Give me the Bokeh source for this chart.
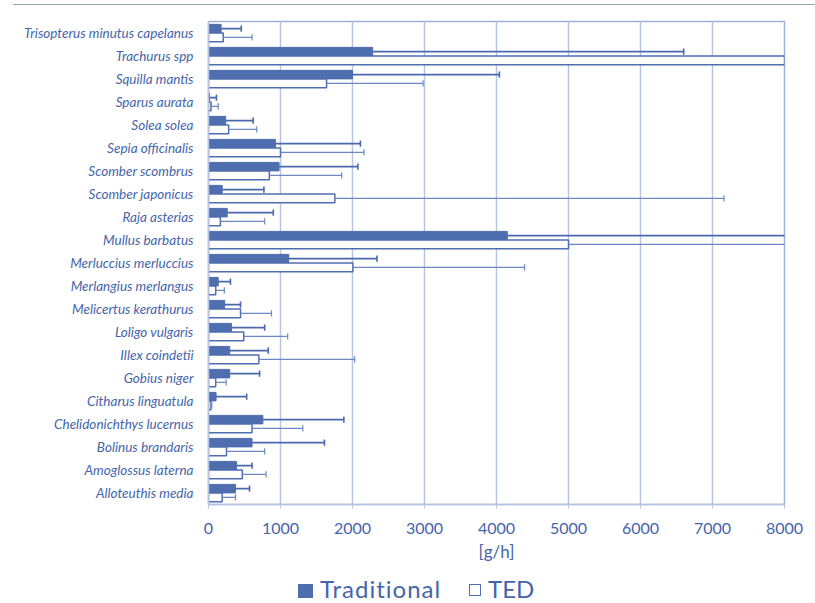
from bokeh.plotting import figure
from bokeh.models import ColumnDataSource, FactorRange, Range1d, FixedTicker, Div
from bokeh.transform import dodge
from bokeh.layouts import column
from bokeh.embed import file_html
from bokeh.resources import INLINE

# ---- data (bottom to top) ----
species = ["Alloteuthis media", "Amoglossus laterna", "Bolinus brandaris",
           "Chelidonichthys lucernus", "Citharus linguatula", "Gobius niger",
           "Illex coindetii", "Loligo vulgaris", "Melicertus kerathurus",
           "Merlangius merlangus", "Merluccius merluccius", "Mullus barbatus",
           "Raja asterias", "Scomber japonicus", "Scomber scombrus",
           "Sepia officinalis", "Solea solea", "Sparus aurata", "Squilla mantis",
           "Trachurus spp", "Trisopterus minutus capelanus"]
traditional = [375, 390, 605, 755, 105, 295, 295, 320, 225, 135, 1115, 4150,
               260, 190, 980, 930, 240, 15, 2000, 2280, 175]
traditional_sd = [195, 215, 1005, 1125, 425, 415, 535, 460, 220, 170, 1225, 4500,
                  640, 580, 1095, 1180, 380, 95, 2040, 4320, 280]
ted = [190, 470, 250, 605, 35, 100, 700, 490, 445, 100, 2005, 5000,
       165, 1755, 845, 1000, 280, 35, 1640, 8600, 205]
ted_sd = [185, 330, 530, 705, 10, 145, 1330, 610, 430, 120, 2385, 3500,
          615, 5405, 1005, 1160, 390, 100, 1340, 2000, 400]
series_names = ["Traditional", "TED"]
x_ticks = [0, 1000, 2000, 3000, 4000, 5000, 6000, 7000, 8000]

BAR = "#4f6eaf"
TXT = "#4565aa"
GRID = "#b7c5e3"
FONT = "Lato"

trad_hi = [m + s for m, s in zip(traditional, traditional_sd)]
ted_hi = [m + s for m, s in zip(ted, ted_sd)]
src = ColumnDataSource(dict(species=species, trad=traditional, trad_hi=trad_hi,
                            ted=ted, ted_hi=ted_hi))

p = figure(width=815, height=560, y_range=FactorRange(*species),
           x_range=Range1d(0, 8000), output_backend="svg", toolbar_location=None,
           min_border_left=208, min_border_right=31, min_border_top=13,
           min_border_bottom=64, margin=0)

OFF = 0.19
H = 0.37
r_trad = p.hbar(y=dodge("species", OFF, range=p.y_range), left=0, right="trad",
                height=H, source=src, fill_color=BAR, line_color=BAR, line_width=1)
r_ted = p.hbar(y=dodge("species", -OFF, range=p.y_range), left=0, right="ted",
               height=H, source=src, fill_color="white", line_color=BAR, line_width=1.5)

# error bars (one-sided)
p.segment(x0="trad", x1="trad_hi", y0=dodge("species", OFF, range=p.y_range),
          y1=dodge("species", OFF, range=p.y_range), source=src,
          line_color="#4a69ad", line_width=1.6)
p.segment(x0="trad_hi", x1="trad_hi", y0=dodge("species", OFF - 0.14, range=p.y_range),
          y1=dodge("species", OFF + 0.14, range=p.y_range), source=src,
          line_color="#4a69ad", line_width=1.6)
p.segment(x0="ted", x1="ted_hi", y0=dodge("species", -OFF, range=p.y_range),
          y1=dodge("species", -OFF, range=p.y_range), source=src,
          line_color="#6d88c1", line_width=1.2)
p.segment(x0="ted_hi", x1="ted_hi", y0=dodge("species", -OFF - 0.14, range=p.y_range),
          y1=dodge("species", -OFF + 0.14, range=p.y_range), source=src,
          line_color="#6d88c1", line_width=1.2)

# axes
p.xaxis.ticker = FixedTicker(ticks=x_ticks)
p.xaxis.axis_label = "[g/h]"
p.xaxis.axis_label_text_font = FONT
p.xaxis.axis_label_text_font_style = "normal"
p.xaxis.axis_label_text_font_size = "17px"
p.xaxis.axis_label_text_color = TXT
p.xaxis.axis_label_standoff = 4
p.xaxis.major_label_text_font = FONT
p.xaxis.major_label_text_font_size = "16px"
p.xaxis.major_label_text_color = TXT
p.xaxis.major_label_standoff = 14
p.xaxis.axis_line_color = GRID
p.xaxis.axis_line_width = 1.5
p.xaxis.major_tick_line_color = GRID
p.xaxis.major_tick_out = 4
p.xaxis.major_tick_in = 0
p.xaxis.minor_tick_line_color = None

p.yaxis.major_label_text_font = FONT
p.yaxis.major_label_text_font_style = "italic"
p.yaxis.major_label_text_font_size = "13.5px"
p.yaxis.major_label_text_color = TXT
p.yaxis.major_label_standoff = 9
p.yaxis.axis_line_color = GRID
p.yaxis.axis_line_width = 1.5
p.yaxis.major_tick_line_color = None

p.xgrid.grid_line_color = GRID
p.xgrid.grid_line_width = 1.5
p.ygrid.grid_line_color = None
p.outline_line_color = "#9fb2da"
p.outline_line_width = 1.5
p.background_fill_color = "white"
p.border_fill_color = "white"

top = Div(text='<div style="position:absolute;left:13px;top:4px;width:802px;height:1px;background:#9aa4b6;"></div>',
          width=815, height=8, margin=0)

legend_html = (
    '<div style="position:relative;width:815px;height:35px;font-family:Lato;'
    'font-size:24px;line-height:24px;color:%s;">'
    '<span style="position:absolute;left:298px;top:16px;width:15px;height:14px;background:%s;"></span>'
    '<span style="position:absolute;left:320px;top:9px;letter-spacing:1px;white-space:nowrap;">%s</span>'
    '<span style="position:absolute;left:469px;top:16px;width:12px;height:12px;border:1.5px solid %s;background:white;"></span>'
    '<span style="position:absolute;left:488px;top:9px;white-space:nowrap;">%s</span>'
    '</div>' % (TXT, BAR, series_names[0], BAR, series_names[1])
)
legend_div = Div(text=legend_html, width=815, height=35, margin=0)

layout = column(top, p, legend_div, spacing=0)

open("out.html", "w").write(file_html(layout, INLINE))
